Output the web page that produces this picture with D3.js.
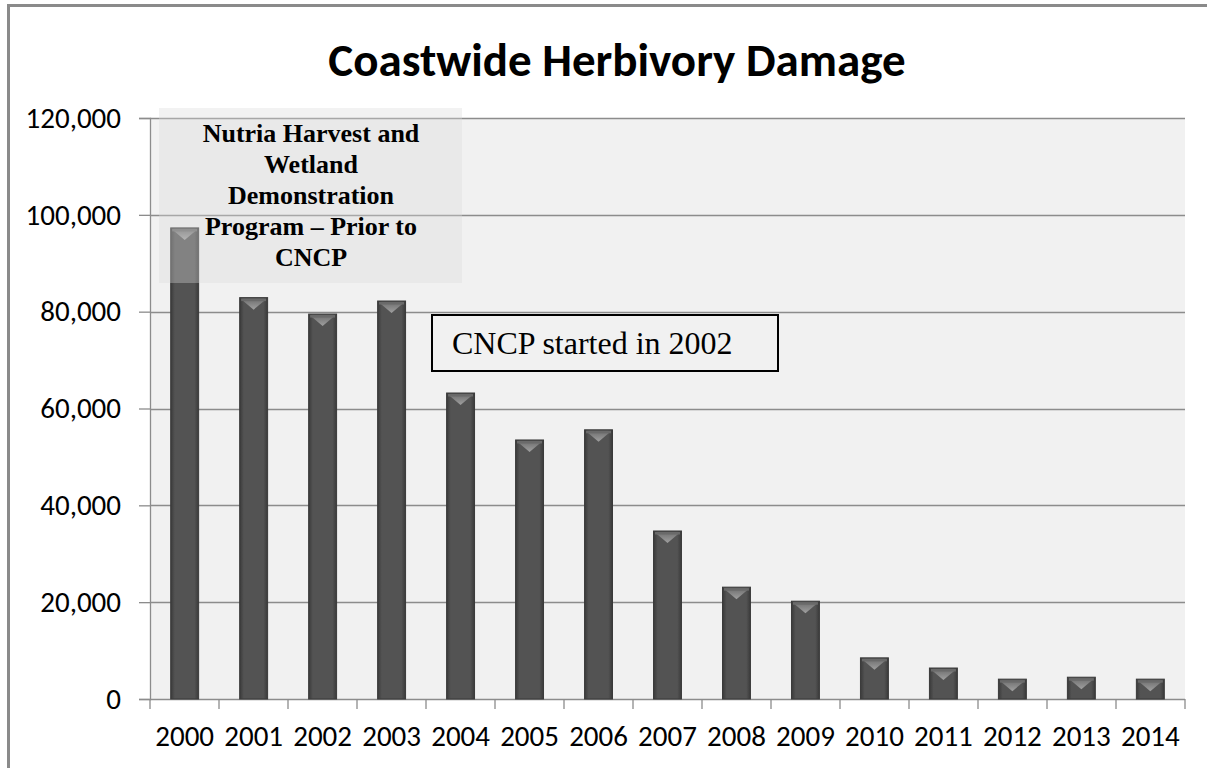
<!DOCTYPE html>
<html>
<head>
<meta charset="utf-8">
<script src="https://cdn.jsdelivr.net/npm/d3@7"></script>
<style>
  body { margin:0; background:#fff; }
  text { font-family: Carlito, Lato, "Open Sans", sans-serif; }
  .tick text { font-size:29px; fill:#000; }
  .serif { font-family: "Liberation Serif", "DejaVu Serif", serif; }
</style>
</head>
<body>
<svg id="chart"></svg>
<script>
var years = ["2000","2001","2002","2003","2004","2005","2006","2007","2008","2009","2010","2011","2012","2013","2014"];
var damage = [97300, 82900, 79500, 82200, 63200, 53500, 55600, 34700, 23100, 20200, 8500, 6400, 4100, 4500, 4100];
var yTicks = [0, 20000, 40000, 60000, 80000, 100000, 120000];
var noteLines = ["Nutria Harvest and", "Wetland", "Demonstration", "Program \u2013 Prior to", "CNCP"];

var screen = {width:1207, height:768};
var margins = {top:118, bottom:69, left:150, right:22};
var graph = {
    width:screen.width-margins.left-margins.right,
    height:screen.height-margins.top-margins.bottom
};

var svg = d3.select("#chart")
    .attr("width", screen.width)
    .attr("height", screen.height);

// outer frame (top and left edges only are visible)
svg.append("path")
    .attr("d", "M8.5,768 L8.5,5.5 L1207,5.5")
    .attr("fill", "none")
    .attr("stroke", "#8a8a8a")
    .attr("stroke-width", 3);

var defs = svg.append("defs");
var body = defs.append("linearGradient").attr("id", "barBody")
    .attr("x1", 0).attr("x2", 1).attr("y1", 0).attr("y2", 0);
body.append("stop").attr("offset", "0%").attr("stop-color", "#3a3a3a");
body.append("stop").attr("offset", "15%").attr("stop-color", "#535353");
body.append("stop").attr("offset", "85%").attr("stop-color", "#535353");
body.append("stop").attr("offset", "100%").attr("stop-color", "#3a3a3a");
var cap = defs.append("linearGradient").attr("id", "barCap")
    .attr("x1", 0).attr("x2", 0).attr("y1", 0).attr("y2", 1);
cap.append("stop").attr("offset", "0%").attr("stop-color", "#707070");
cap.append("stop").attr("offset", "100%").attr("stop-color", "#a0a0a0");

var xScale = d3.scaleBand()
    .domain(years)
    .range([0, graph.width])
    .paddingInner(0.595)
    .paddingOuter(0.3);

var yScale = d3.scaleLinear()
    .domain([0, 120000])
    .range([graph.height, 0]);

var g = svg.append("g")
    .attr("transform", "translate("+margins.left+","+margins.top+")");

g.append("rect")
    .attr("width", graph.width)
    .attr("height", graph.height)
    .attr("fill", "#f1f1f1");

g.selectAll(".grid")
    .data(yTicks)
    .enter()
    .append("line")
    .attr("x1", 0)
    .attr("x2", graph.width)
    .attr("y1", function(d) { return Math.round(yScale(d)) + 0.5; })
    .attr("y2", function(d) { return Math.round(yScale(d)) + 0.5; })
    .attr("stroke", "#8c8c8c")
    .attr("stroke-width", 1.3);

// bars
var bars = g.selectAll(".bar")
    .data(damage)
    .enter()
    .append("g")
    .attr("transform", function(d, i) { return "translate("+xScale(years[i])+",0)"; });

bars.append("rect")
    .attr("y", function(d) { return yScale(d); })
    .attr("width", xScale.bandwidth())
    .attr("height", function(d) { return graph.height - yScale(d); })
    .attr("fill", "url(#barBody)")
    .attr("stroke", "#3a3a3a")
    .attr("stroke-width", 1);

// bevelled top: a light wedge pointing down
bars.append("path")
    .attr("d", function(d) {
        var w = xScale.bandwidth(), y0 = yScale(d);
        return "M1.5,"+(y0+1.5)+" L"+(w-1.5)+","+(y0+1.5)+" L"+(w/2)+","+(y0+12)+"Z";
    })
    .attr("fill", "url(#barCap)");
bars.append("rect")
    .attr("x", 1.5)
    .attr("y", function(d) { return yScale(d) + 1; })
    .attr("width", xScale.bandwidth() - 3)
    .attr("height", 2.5)
    .attr("fill", "#6a6a6a");

// axes
var yAxis = d3.axisLeft(yScale)
    .tickValues(yTicks)
    .tickSize(11)
    .tickPadding(18)
    .tickFormat(d3.format(","));
var yg = g.append("g").call(yAxis);
yg.select(".domain").attr("stroke", "#8c8c8c").attr("stroke-width", 1.3);
yg.selectAll(".tick line").attr("stroke", "#8c8c8c").attr("stroke-width", 1.3);

var xg = g.append("g")
    .attr("transform", "translate(0,"+graph.height+")")
    .call(d3.axisBottom(xScale).tickSize(0).tickPadding(26));
xg.select(".domain").remove();
xg.selectAll(".tick text").attr("dy", "0.71em");
xg.selectAll(".sep")
    .data(d3.range(years.length + 1))
    .enter()
    .append("line")
    .attr("x1", function(i) { return i * graph.width / years.length; })
    .attr("x2", function(i) { return i * graph.width / years.length; })
    .attr("y1", 0)
    .attr("y2", 10)
    .attr("stroke", "#8c8c8c")
    .attr("stroke-width", 1.3);

// title
svg.append("text")
    .attr("x", 617)
    .attr("y", 76)
    .attr("text-anchor", "middle")
    .attr("font-size", 47)
    .attr("font-weight", "bold")
    .attr("fill", "#000")
    .text("Coastwide Herbivory Damage");

// note box over first bar
svg.append("rect")
    .attr("x", 159).attr("y", 108)
    .attr("width", 303).attr("height", 175)
    .attr("fill", "#d9d9d9")
    .attr("fill-opacity", 0.35);
svg.append("g")
    .selectAll("text")
    .data(noteLines)
    .enter()
    .append("text")
    .classed("serif", true)
    .attr("x", 311)
    .attr("y", function(d, i) { return 142 + i * 31; })
    .attr("text-anchor", "middle")
    .attr("font-size", 26)
    .attr("font-weight", "bold")
    .text(function(d) { return d; });

svg.append("rect")
    .attr("x", 432).attr("y", 315)
    .attr("width", 346).attr("height", 56)
    .attr("fill", "#f1f1f1")
    .attr("stroke", "#000")
    .attr("stroke-width", 2);
svg.append("text")
    .classed("serif", true)
    .attr("x", 452)
    .attr("y", 354)
    .attr("font-size", 32)
    .text("CNCP started in 2002");
</script>
</body>
</html>
